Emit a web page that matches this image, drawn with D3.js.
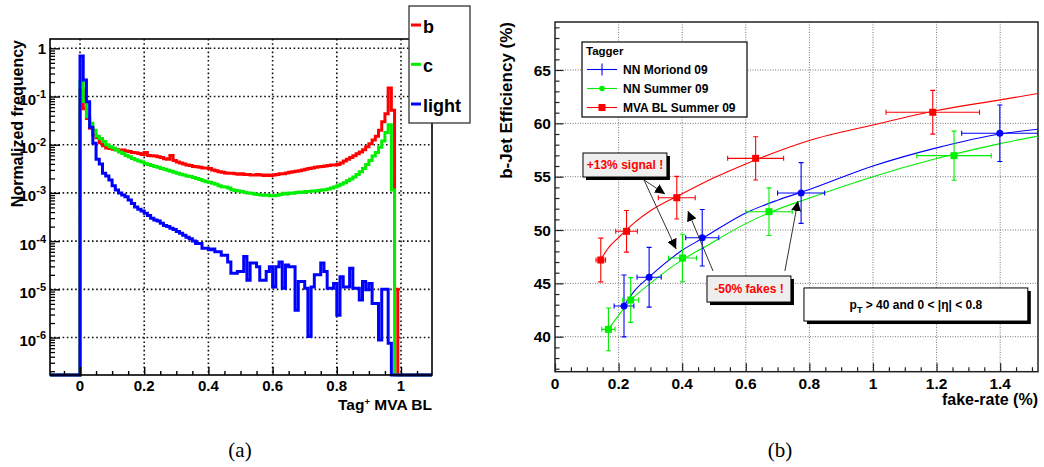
<!DOCTYPE html>
<html>
<head>
<meta charset="utf-8">
<script src="https://cdn.jsdelivr.net/npm/d3@7"></script>
<style>
  body { margin: 0; background: #fff; }
  svg { display: block; }
  text { font-family: "Liberation Sans", Arial, Helvetica, sans-serif; font-weight: bold; }
  .cap { font-family: "Liberation Serif", "DejaVu Serif", serif; font-weight: normal; }
</style>
</head>
<body>
<svg id="chart" width="1044" height="467"></svg>
<script>
// ================= (a) tagger output, normalized per flavour =================
const binLo = 0, binHi = 1, nBins = 100;

const freqB = [
  0.135, 0.056, 0.035, 0.022, 0.016, 0.014, 0.011, 9.5e-3, 8.5e-3, 8.3e-3,
  8.1e-3, 7.9e-3, 7.8e-3, 7.8e-3, 7.4e-3, 7.2e-3, 6.9e-3, 6.8e-3, 6.6e-3, 6.3e-3,
  6.9e-3, 6.0e-3, 5.9e-3, 5.8e-3, 5.6e-3, 5.4e-3, 5.1e-3, 5.0e-3, 6.0e-3, 4.7e-3,
  4.4e-3, 4.2e-3, 4.0e-3, 3.8e-3, 3.7e-3, 3.55e-3, 3.5e-3, 3.4e-3, 3.3e-3, 3.3e-3,
  3.2e-3, 3.0e-3, 2.9e-3, 2.75e-3, 2.7e-3, 2.6e-3, 2.55e-3, 2.55e-3, 2.5e-3, 2.45e-3,
  2.5e-3, 2.4e-3, 2.4e-3, 2.35e-3, 2.35e-3, 2.4e-3, 2.35e-3, 2.3e-3, 2.35e-3, 2.3e-3,
  2.35e-3, 2.4e-3, 2.5e-3, 2.5e-3, 2.6e-3, 2.7e-3, 2.75e-3, 2.8e-3, 2.9e-3, 3.0e-3,
  3.1e-3, 3.2e-3, 3.3e-3, 3.4e-3, 3.5e-3, 3.55e-3, 3.6e-3, 3.7e-3, 3.8e-3, 3.8e-3,
  3.9e-3, 4.2e-3, 4.6e-3, 5.0e-3, 5.4e-3, 5.9e-3, 6.5e-3, 7.1e-3, 7.9e-3, 9.1e-3,
  0.0105, 0.0126, 0.015, 0.02, 0.03, 0.044, 0.15, 0.052, 1.0e-5, 0
];

const freqC = [
  0.2, 0.079, 0.038, 0.028, 0.02, 0.015, 0.0135, 0.0117, 0.01, 9.1e-3,
  8.5e-3, 7.8e-3, 7.1e-3, 6.6e-3, 6.0e-3, 5.6e-3, 5.2e-3, 4.9e-3, 4.6e-3, 4.4e-3,
  4.1e-3, 3.9e-3, 3.7e-3, 3.55e-3, 3.4e-3, 3.2e-3, 3.1e-3, 2.95e-3, 2.8e-3, 2.7e-3,
  2.55e-3, 2.45e-3, 2.35e-3, 2.25e-3, 2.2e-3, 2.1e-3, 2.0e-3, 1.9e-3, 1.78e-3, 1.7e-3,
  1.66e-3, 1.58e-3, 1.51e-3, 1.41e-3, 1.35e-3, 1.32e-3, 1.26e-3, 1.17e-3, 1.12e-3, 1.1e-3,
  1.07e-3, 1.02e-3, 1.0e-3, 9.8e-4, 9.5e-4, 9.3e-4, 9.1e-4, 8.9e-4, 9.1e-4, 8.7e-4,
  8.7e-4, 8.9e-4, 9.3e-4, 9.8e-4, 9.5e-4, 1.0e-3, 9.8e-4, 1.02e-3, 1.05e-3, 1.02e-3,
  1.07e-3, 1.07e-3, 1.1e-3, 1.1e-3, 1.12e-3, 1.15e-3, 1.17e-3, 1.2e-3, 1.26e-3, 1.32e-3,
  1.41e-3, 1.51e-3, 1.62e-3, 1.78e-3, 1.95e-3, 2.15e-3, 2.4e-3, 2.75e-3, 3.2e-3, 3.9e-3,
  4.7e-3, 5.8e-3, 6.9e-3, 8.9e-3, 0.012, 0.018, 0.026, 1.15e-3, 0, 0
];

const freqLight = [
  0.69, 0.22, 0.078, 0.023, 0.0107, 5.0e-3, 4.0e-3, 2.55e-3, 2.25e-3, 1.85e-3,
  1.41e-3, 1.15e-3, 1.0e-3, 9.1e-4, 8.3e-4, 7.1e-4, 6.0e-4, 5.1e-4, 4.6e-4, 4.2e-4,
  3.8e-4, 3.4e-4, 3.0e-4, 2.75e-4, 2.6e-4, 2.35e-4, 2.1e-4, 2.0e-4, 1.86e-4, 1.74e-4,
  1.58e-4, 1.45e-4, 1.32e-4, 1.2e-4, 1.12e-4, 1.0e-4, 8.9e-5, 8.9e-5, 7.1e-5, 7.1e-5,
  6.6e-5, 6.9e-5, 6.0e-5, 6.0e-5, 5.1e-5, 5.1e-5, 3.7e-5, 2.15e-5, 2.15e-5, 2.35e-5,
  2.35e-5, 4.8e-5, 1.55e-5, 3.5e-5, 3.5e-5, 2.95e-5, 1.55e-5, 1.55e-5, 2.35e-5, 2.95e-5,
  1.12e-5, 2.95e-5, 3.7e-5, 1.05e-5, 3.2e-5, 2.95e-5, 2.95e-5, 3.7e-6, 1.45e-5, 1.45e-5,
  1.05e-5, 1.05e-6, 1.12e-5, 2.0e-5, 2.0e-5, 3.5e-5, 2.35e-5, 1.05e-5, 1.05e-5, 1.32e-5,
  2.9e-6, 1.82e-5, 1.12e-5, 1.12e-5, 2.75e-5, 1.05e-5, 1.05e-5, 6.0e-6, 1.45e-5, 9.8e-6,
  1.32e-5, 5.1e-6, 5.1e-6, 8.9e-7, 1.0e-5, 1.0e-5, 7.6e-7, 0, 0, 0
];

const flavourNames = ["b", "c", "light"];
const flavourColors = ["#ff0000", "#00ee00", "#0000ff"];

const xTicksA = [0, 0.2, 0.4, 0.6, 0.8, 1];
const xTickLabelsA = ["0", "0.2", "0.4", "0.6", "0.8", "1"];
const yDecadesA = [0, -1, -2, -3, -4, -5, -6];

// ================= (b) efficiency vs fake rate =================
const taggerNames = ["NN Moriond 09", "NN Summer 09", "MVA BL Summer 09"];
const taggerColors = ["#0000ff", "#00ee00", "#ff0000"];

const moriondFake = [0.217, 0.296, 0.463, 0.774, 1.399];
const moriondEff  = [42.88, 45.57, 49.28, 53.47, 59.07];
const moriondFakeErr = [0.031, 0.038, 0.052, 0.074, 0.12];
const moriondEffErr  = [2.9, 2.8, 2.65, 2.85, 2.65];

const summerFake = [0.168, 0.238, 0.401, 0.673, 1.255];
const summerEff  = [40.69, 43.44, 47.38, 51.72, 56.97];
const summerFakeErr = [0.021, 0.025, 0.044, 0.073, 0.117];
const summerEffErr  = [2.0, 2.1, 2.23, 2.23, 2.3];

const mvaFake = [0.144, 0.225, 0.383, 0.631, 1.188];
const mvaEff  = [47.19, 49.88, 53.03, 56.72, 61.04];
const mvaFakeErr = [0.015, 0.034, 0.058, 0.088, 0.147];
const mvaEffErr  = [2.05, 1.95, 2.0, 2.03, 2.05];

// fitted trend curves, sampled along fake rate
const moriondCurveX = [0.217, 0.25, 0.3, 0.4, 0.463, 0.6, 0.7, 0.8, 1.0, 1.2, 1.4, 1.519];
const moriondCurveY = [42.9, 44.3, 45.7, 48.1, 49.2, 51.6, 52.8, 53.8, 56.0, 57.7, 59.0, 59.45];
const summerCurveX = [0.168, 0.2, 0.238, 0.3, 0.4, 0.47, 0.6, 0.672, 0.8, 1.0, 1.2, 1.4, 1.519];
const summerCurveY = [40.7, 42.0, 43.4, 45.0, 47.2, 48.4, 50.6, 51.6, 53.0, 55.0, 56.7, 58.1, 58.8];
const mvaCurveX = [0.143, 0.17, 0.2, 0.25, 0.3, 0.4, 0.5, 0.6, 0.8, 1.0, 1.2, 1.4, 1.519];
const mvaCurveY = [47.2, 48.4, 49.3, 50.7, 51.8, 53.4, 54.9, 56.2, 58.4, 59.85, 61.2, 62.2, 62.8];

const xTicksB = [0, 0.2, 0.4, 0.6, 0.8, 1, 1.2, 1.4];
const xTickLabelsB = ["0", "0.2", "0.4", "0.6", "0.8", "1", "1.2", "1.4"];
const yTicksB = [40, 45, 50, 55, 60, 65];

// ---------------------------------------------------------------------------
const svg = d3.select("#chart");

// ======== panel (a) ========
const A = { x0: 50, x1: 432, y0: 39, y1: 375 };
const xA = d3.scaleLinear().domain([-0.0935, 1.0966]).range([A.x0, A.x1]);
const yA = d3.scaleLog().domain([1.67e-7, 1.56]).range([A.y1, A.y0]);

const gA = svg.append("g");

// dotted grid
gA.selectAll(".gx").data(xTicksA).enter().append("line")
  .attr("x1", d => xA(d)).attr("x2", d => xA(d)).attr("y1", A.y0).attr("y2", A.y1)
  .attr("stroke", "#111").attr("stroke-width", 1.6).attr("stroke-dasharray", "1.6,2.6");
gA.selectAll(".gy").data(yDecadesA).enter().append("line")
  .attr("x1", A.x0).attr("x2", A.x1).attr("y1", d => yA(Math.pow(10, d))).attr("y2", d => yA(Math.pow(10, d)))
  .attr("stroke", "#111").attr("stroke-width", 1.6).attr("stroke-dasharray", "1.6,2.6");

// histograms
svg.append("clipPath").attr("id", "clipA").append("rect")
  .attr("x", A.x0).attr("y", A.y0).attr("width", A.x1 - A.x0).attr("height", A.y1 - A.y0 + 2);

function histPoints(vals) {
  const floor = yA.domain()[0];
  const pts = [[xA.domain()[0], floor]];
  const w = (binHi - binLo) / nBins;
  vals.forEach((v, i) => pts.push([binLo + i * w, v > 0 ? v : floor]));
  pts.push([binHi, floor]);
  pts.push([xA.domain()[1], floor]);
  return pts;
}
const stepLine = d3.line().x(d => xA(d[0])).y(d => yA(d[1])).curve(d3.curveStepAfter);
const histG = gA.append("g").attr("clip-path", "url(#clipA)");
[freqB, freqC, freqLight].forEach((vals, k) => {
  histG.append("path").attr("d", stepLine(histPoints(vals)))
    .attr("fill", "none").attr("stroke", flavourColors[k]).attr("stroke-width", 3)
    .attr("stroke-linejoin", "miter");
});

// axes (ticks pointing inwards)
const minorYA = [];
for (let k = -7; k <= 0; k++) for (let m = 2; m <= 9; m++) {
  const v = m * Math.pow(10, k);
  if (v > yA.domain()[0] && v < yA.domain()[1]) minorYA.push(v);
}
gA.append("g").attr("transform", `translate(${A.x0},0)`)
  .call(d3.axisLeft(yA).tickValues(minorYA).tickSize(-5).tickSizeOuter(0).tickFormat(""))
  .call(g => g.select(".domain").remove())
  .call(g => g.selectAll("line").attr("stroke", "#000").attr("stroke-width", 1.3));
gA.append("g").attr("transform", `translate(${A.x0},0)`)
  .call(d3.axisLeft(yA).tickValues(yDecadesA.map(d => Math.pow(10, d))).tickSize(-10).tickSizeOuter(0).tickFormat(""))
  .call(g => g.select(".domain").remove())
  .call(g => g.selectAll("line").attr("stroke", "#000").attr("stroke-width", 1.4));

const minorXA = d3.range(-0.05, 1.06, 0.05).filter(v => Math.abs(Math.round(v / 0.2) * 0.2 - v) > 1e-6);
gA.append("g").attr("transform", `translate(0,${A.y1})`)
  .call(d3.axisBottom(xA).tickValues(minorXA).tickSize(-4).tickSizeOuter(0).tickFormat(""))
  .call(g => g.select(".domain").remove())
  .call(g => g.selectAll("line").attr("stroke", "#000").attr("stroke-width", 1.4));
gA.append("g").attr("transform", `translate(0,${A.y1})`)
  .call(d3.axisBottom(xA).tickValues(xTicksA).tickSize(-8).tickSizeOuter(0).tickFormat(""))
  .call(g => g.select(".domain").remove())
  .call(g => g.selectAll("line").attr("stroke", "#000").attr("stroke-width", 1.4));

// frame
gA.append("rect").attr("x", A.x0).attr("y", A.y0).attr("width", A.x1 - A.x0).attr("height", A.y1 - A.y0)
  .attr("fill", "none").attr("stroke", "#000").attr("stroke-width", 1.6);

// tick labels
gA.selectAll(".xl").data(xTicksA).enter().append("text")
  .attr("x", d => xA(d)).attr("y", 390.5).attr("text-anchor", "middle")
  .attr("font-size", 15).text((d, i) => xTickLabelsA[i]);
yDecadesA.forEach(k => {
  const y = yA(Math.pow(10, k));
  const t = gA.append("text").attr("text-anchor", "end").attr("font-size", 15).attr("x", 46);
  if (k === 0) { t.attr("y", y + 5.5).text("1"); }
  else {
    t.attr("y", y + 8.5);
    t.append("tspan").text("10");
    t.append("tspan").attr("dy", -7).attr("font-size", 11).text(String(k));
  }
});

// axis titles
gA.append("text").attr("transform", "translate(23,40) rotate(-90)").attr("text-anchor", "end")
  .attr("font-size", 16).text("Normalized frequency");
const xt = gA.append("text").attr("x", A.x1).attr("y", 410).attr("text-anchor", "end").attr("font-size", 15.5);
xt.append("tspan").text("Tag");
xt.append("tspan").attr("dy", -5).attr("font-size", 9.5).text("+");
xt.append("tspan").attr("dy", 5).text(" MVA BL");

// legend
const legA = gA.append("g");
legA.append("rect").attr("x", 409).attr("y", 6).attr("width", 61).attr("height", 117)
  .attr("fill", "#fff").attr("stroke", "#333").attr("stroke-width", 1.3);
const legAy = [25, 64.3, 104];
flavourNames.forEach((n, i) => {
  legA.append("line").attr("x1", 411).attr("x2", 421).attr("y1", legAy[i]).attr("y2", legAy[i])
    .attr("stroke", flavourColors[i]).attr("stroke-width", 3);
  legA.append("text").attr("x", 423).attr("y", legAy[i] + 8).attr("font-size", 18).text(n);
});

// ======== panel (b) ========
const B = { x0: 555, x1: 1038, y0: 22, y1: 371.7 };
const xB = d3.scaleLinear().domain([0, 1.519]).range([B.x0, B.x1]);
const yB = d3.scaleLinear().domain([36.72, 69.5]).range([B.y1, B.y0]);
const gB = svg.append("g");

// grid
gB.selectAll(".gx").data(xTicksB.slice(1)).enter().append("line")
  .attr("x1", d => xB(d)).attr("x2", d => xB(d)).attr("y1", B.y0).attr("y2", B.y1)
  .attr("stroke", "#777").attr("stroke-width", 1).attr("stroke-dasharray", "1,1.5");
gB.selectAll(".gy").data(yTicksB).enter().append("line")
  .attr("x1", B.x0).attr("x2", B.x1).attr("y1", d => yB(d)).attr("y2", d => yB(d))
  .attr("stroke", "#777").attr("stroke-width", 1).attr("stroke-dasharray", "1,1.5");

// axes
const minorYB = d3.range(37, 70, 1).filter(v => v % 5 !== 0);
gB.append("g").attr("transform", `translate(${B.x0},0)`)
  .call(d3.axisLeft(yB).tickValues(minorYB).tickSize(-4.5).tickSizeOuter(0).tickFormat(""))
  .call(g => g.select(".domain").remove())
  .call(g => g.selectAll("line").attr("stroke", "#222").attr("stroke-width", 1.2));
gB.append("g").attr("transform", `translate(${B.x0},0)`)
  .call(d3.axisLeft(yB).tickValues(yTicksB).tickSize(-8.5).tickSizeOuter(0).tickFormat(""))
  .call(g => g.select(".domain").remove())
  .call(g => g.selectAll("line").attr("stroke", "#222").attr("stroke-width", 1.2));
const minorXB = d3.range(0.05, 1.52, 0.05).filter(v => Math.abs(Math.round(v / 0.2) * 0.2 - v) > 1e-6);
gB.append("g").attr("transform", `translate(0,${B.y1})`)
  .call(d3.axisBottom(xB).tickValues(minorXB).tickSize(-4.5).tickSizeOuter(0).tickFormat(""))
  .call(g => g.select(".domain").remove())
  .call(g => g.selectAll("line").attr("stroke", "#222").attr("stroke-width", 1.2));
gB.append("g").attr("transform", `translate(0,${B.y1})`)
  .call(d3.axisBottom(xB).tickValues(xTicksB).tickSize(-8.5).tickSizeOuter(0).tickFormat(""))
  .call(g => g.select(".domain").remove())
  .call(g => g.selectAll("line").attr("stroke", "#222").attr("stroke-width", 1.2));

gB.append("rect").attr("x", B.x0).attr("y", B.y0).attr("width", B.x1 - B.x0).attr("height", B.y1 - B.y0)
  .attr("fill", "none").attr("stroke", "#222").attr("stroke-width", 1.5);

gB.selectAll(".xl").data(xTicksB).enter().append("text")
  .attr("x", d => xB(d)).attr("y", 388.5).attr("text-anchor", "middle")
  .attr("font-size", 15.5).text((d, i) => xTickLabelsB[i]);
gB.selectAll(".yl").data(yTicksB).enter().append("text")
  .attr("x", 551).attr("y", d => yB(d) + 5.5).attr("text-anchor", "end")
  .attr("font-size", 15.5).text(d => d);

gB.append("text").attr("transform", "translate(512,22) rotate(-90)").attr("text-anchor", "end")
  .attr("font-size", 17).text("b-Jet Efficiency (%)");
gB.append("text").attr("x", B.x1).attr("y", 405).attr("text-anchor", "end")
  .attr("font-size", 16).text("fake-rate (%)");

// curves, error bars, markers
svg.append("clipPath").attr("id", "clipB").append("rect")
  .attr("x", B.x0).attr("y", B.y0).attr("width", B.x1 - B.x0).attr("height", B.y1 - B.y0);
const plotB = gB.append("g").attr("clip-path", "url(#clipB)");
const curveLine = d3.line().x(d => xB(d[0])).y(d => yB(d[1])).curve(d3.curveMonotoneX);

const taggers = [
  { fx: moriondFake, ey: moriondEff, efx: moriondFakeErr, eey: moriondEffErr, cx: moriondCurveX, cy: moriondCurveY, marker: "circle" },
  { fx: summerFake, ey: summerEff, efx: summerFakeErr, eey: summerEffErr, cx: summerCurveX, cy: summerCurveY, marker: "square" },
  { fx: mvaFake, ey: mvaEff, efx: mvaFakeErr, eey: mvaEffErr, cx: mvaCurveX, cy: mvaCurveY, marker: "square" }
];

taggers.forEach((t, k) => {
  const col = taggerColors[k];
  plotB.append("path").attr("d", curveLine(t.cx.map((x, i) => [x, t.cy[i]])))
    .attr("fill", "none").attr("stroke", col).attr("stroke-width", 1.1);
});
taggers.forEach((t, k) => {
  const col = taggerColors[k];
  const g = plotB.append("g").attr("stroke", col).attr("stroke-width", 1.1);
  t.fx.forEach((x, i) => {
    const y = t.ey[i];
    const xl = xB(x - t.efx[i]), xr = xB(x + t.efx[i]);
    const yt = yB(y + t.eey[i]), yb = yB(y - t.eey[i]);
    g.append("line").attr("x1", xl).attr("x2", xr).attr("y1", yB(y)).attr("y2", yB(y));
    g.append("line").attr("x1", xB(x)).attr("x2", xB(x)).attr("y1", yt).attr("y2", yb);
    g.append("line").attr("x1", xl).attr("x2", xl).attr("y1", yB(y) - 2.5).attr("y2", yB(y) + 2.5);
    g.append("line").attr("x1", xr).attr("x2", xr).attr("y1", yB(y) - 2.5).attr("y2", yB(y) + 2.5);
    g.append("line").attr("x1", xB(x) - 2.5).attr("x2", xB(x) + 2.5).attr("y1", yt).attr("y2", yt);
    g.append("line").attr("x1", xB(x) - 2.5).attr("x2", xB(x) + 2.5).attr("y1", yb).attr("y2", yb);
    if (t.marker === "circle") {
      plotB.append("circle").attr("cx", xB(x)).attr("cy", yB(y)).attr("r", 3.5).attr("fill", col);
    } else {
      plotB.append("rect").attr("x", xB(x) - 3.5).attr("y", yB(y) - 3.5).attr("width", 7).attr("height", 7).attr("fill", col);
    }
  });
});

// legend
const legB = gB.append("g");
legB.append("rect").attr("x", 582).attr("y", 42).attr("width", 165).attr("height", 75)
  .attr("fill", "#fff").attr("stroke", "#000").attr("stroke-width", 1.2);
legB.append("text").attr("x", 586).attr("y", 55).attr("font-size", 11.5).text("Tagger");
const legBy = [69.5, 88.5, 107.5];
taggerNames.forEach((n, i) => {
  const y = legBy[i], col = taggerColors[i];
  legB.append("line").attr("x1", 587).attr("x2", 617).attr("y1", y).attr("y2", y).attr("stroke", col).attr("stroke-width", 1.1);
  if (i === 0) legB.append("line").attr("x1", 602).attr("x2", 602).attr("y1", y - 6).attr("y2", y + 6).attr("stroke", col).attr("stroke-width", 1.1);
  if (i === 1) legB.append("circle").attr("cx", 602).attr("cy", y).attr("r", 2.8).attr("fill", col);
  if (i === 2) legB.append("rect").attr("x", 598.5).attr("y", y - 3.5).attr("width", 7).attr("height", 7).attr("fill", col);
  legB.append("text").attr("x", 623).attr("y", y + 4.3).attr("font-size", 12).text(n);
});

// annotations
const defs = svg.append("defs");
defs.append("marker").attr("id", "ah").attr("viewBox", "0 0 10 10").attr("refX", 10).attr("refY", 5)
  .attr("markerWidth", 10).attr("markerHeight", 10).attr("markerUnits", "userSpaceOnUse")
  .attr("orient", "auto")
  .append("path").attr("d", "M0,0 L10,5 L0,10 Z").attr("fill", "#000");

const arrows = [
  [[0.28, 54.69], [0.346, 53.38]],
  [[0.28, 54.69], [0.381, 48.22]],
  [[0.497, 46.16], [0.418, 51.78]],
  [[0.723, 46.16], [0.764, 52.72]]
];
arrows.forEach(a => {
  gB.append("line").attr("x1", xB(a[0][0])).attr("y1", yB(a[0][1])).attr("x2", xB(a[1][0])).attr("y2", yB(a[1][1]))
    .attr("stroke", "#333").attr("stroke-width", 1).attr("marker-end", "url(#ah)");
});

function noteBox(x0, x1, y0, y1, fill, color, build) {
  const px0 = xB(x0), px1 = xB(x1), py0 = yB(y0), py1 = yB(y1);
  gB.append("rect").attr("x", px0 + 3).attr("y", py0 + 3).attr("width", px1 - px0).attr("height", py1 - py0).attr("fill", "#000");
  gB.append("rect").attr("x", px0).attr("y", py0).attr("width", px1 - px0).attr("height", py1 - py0)
    .attr("fill", fill).attr("stroke", "#000").attr("stroke-width", 1);
  const t = gB.append("text").attr("x", (px0 + px1) / 2).attr("y", (py0 + py1) / 2 + 4.3)
    .attr("text-anchor", "middle").attr("font-size", 12).attr("fill", color);
  build(t);
}
noteBox(0.088, 0.352, 57.22, 54.97, "#eeeeee", "#ff0000", t => t.text("+13% signal !"));
noteBox(0.478, 0.742, 45.69, 43.25, "#eeeeee", "#ff0000", t => t.text("-50% fakes !"));
noteBox(0.783, 1.487, 44.57, 41.47, "#ffffff", "#000", t => {
  t.append("tspan").text("p");
  t.append("tspan").attr("dy", 4).attr("font-size", 9).text("T");
  t.append("tspan").attr("dy", -4).text(" > 40 and  0 < |\u03b7| < 0.8");
});

// sub-figure captions
svg.append("text").attr("class", "cap").attr("x", 240).attr("y", 457).attr("text-anchor", "middle").attr("font-size", 21).text("(a)");
svg.append("text").attr("class", "cap").attr("x", 780).attr("y", 457).attr("text-anchor", "middle").attr("font-size", 21).text("(b)");
</script>
</body>
</html>
